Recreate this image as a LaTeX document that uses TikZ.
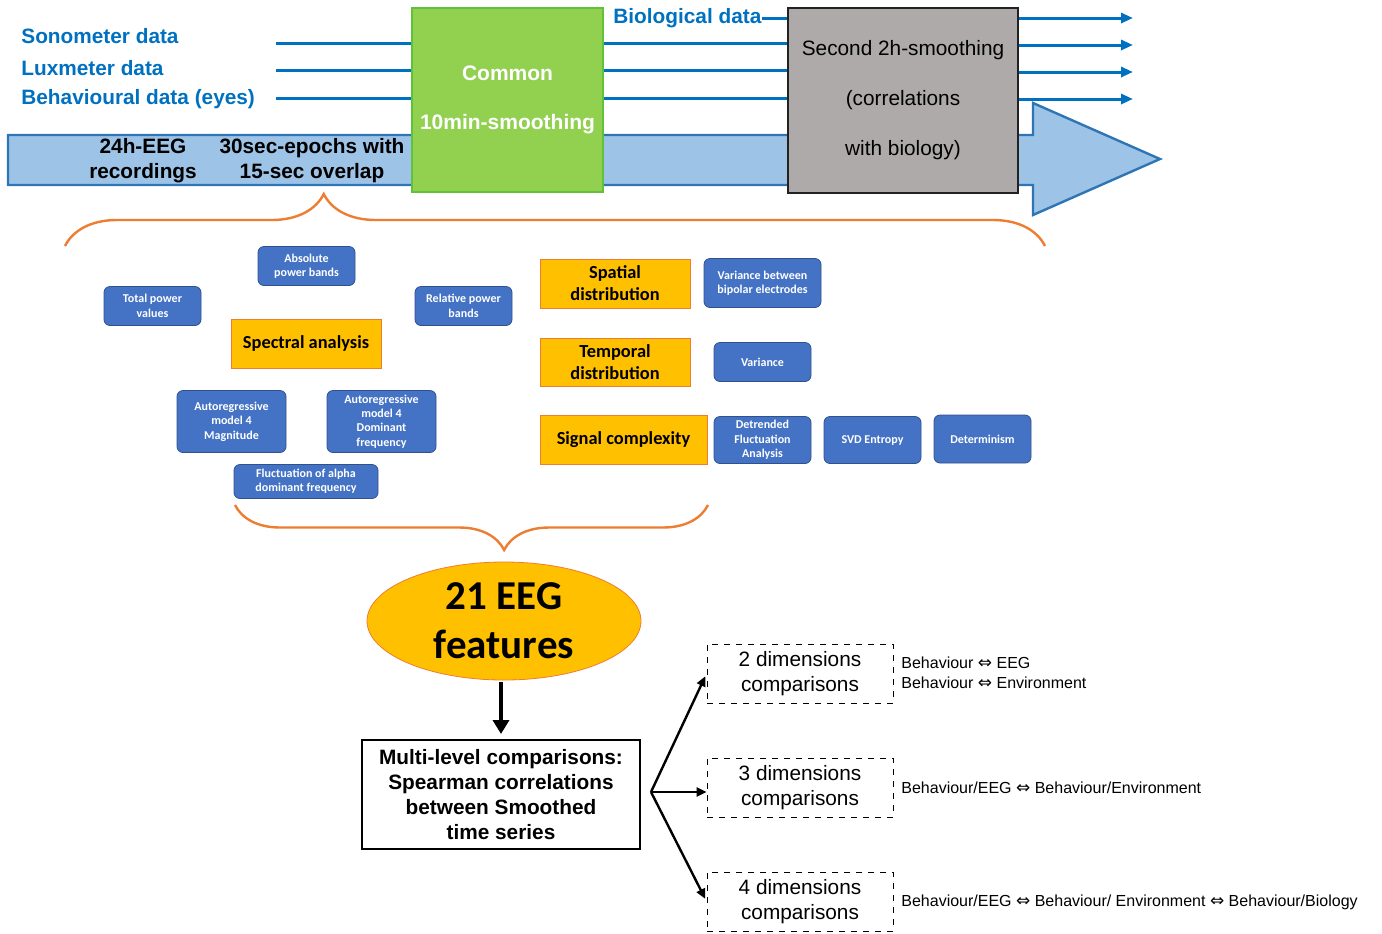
\documentclass[tikz,border=0pt]{standalone}
\usepackage{fontspec}
\setmainfont{Liberation Sans}
\newfontfamily\calibri{Carlito}
\newfontfamily\symfont{DejaVu Sans}
\usepackage{tikz}
\usetikzlibrary{arrows.meta, positioning, shapes.geometric, calc, decorations.pathreplacing}

\definecolor{lineblue}{HTML}{0070C0}
\definecolor{arrowfill}{HTML}{9DC3E6}
\definecolor{arrowedge}{HTML}{2E75B6}
\definecolor{smoothgreen}{HTML}{92D050}
\definecolor{greenedge}{HTML}{5FC23A}
\definecolor{smoothgrey}{HTML}{AEAAAA}
\definecolor{featblue}{HTML}{4472C4}
\definecolor{featedge}{HTML}{2F528F}
\definecolor{catyellow}{HTML}{FFC000}
\definecolor{braceorange}{HTML}{ED7D31}

\newcommand{\dblarrow}{{\symfont\fontsize{8.5}{10}\selectfont ⇔}}

\begin{document}
\begin{tikzpicture}[x=0.5pt, y=-0.5pt,
  flowline/.style={draw=lineblue, line width=1.5pt},
  datalabel/.style={text=lineblue, anchor=west, inner sep=0pt, font=\bfseries\fontsize{10.4}{12.5}\selectfont},
  featbox/.style={draw=featedge, fill=featblue, rounded corners=3pt, text=white, align=center,
    inner sep=1pt, minimum width=48.5pt, minimum height=19.5pt, font=\calibri\bfseries\fontsize{6}{7.2}\selectfont},
  catbox/.style={draw=braceorange, fill=catyellow, align=center, inner sep=1pt,
    minimum width=75pt, minimum height=24.5pt, font=\calibri\bfseries\fontsize{9.2}{11}\selectfont},
  dimbox/.style={draw, dashed, align=center, minimum width=93pt, minimum height=29.5pt,
    font=\fontsize{10.4}{12.5}\selectfont},
  pairtext/.style={anchor=west, align=left, inner sep=0pt, font=\fontsize{8}{10}\selectfont},
  bracestyle/.style={draw=braceorange, line width=1.2pt, decorate}]

  \useasboundingbox (0,0) rectangle (1382,933);

  % Main EEG arrow
  \draw[arrowedge, fill=arrowfill, line width=1.2pt]
    (8,135) -- (1033,135) -- (1033,103) -- (1160,159) -- (1033,215) -- (1033,185) -- (8,185) -- cycle;
  \node[font=\bfseries\fontsize{10.4}{12.5}\selectfont, align=center] (eeg) at (143,161) {24h-EEG\\recordings};
  \node[font=\bfseries\fontsize{10.4}{12.5}\selectfont, align=center] (epochs) at (312,161) {30sec-epochs with\\15-sec overlap};

  % Input data lines
  \foreach \y/\name/\lab in {36/sono/Sonometer data, 68/lux/Luxmeter data, 99/behav/Behavioural data (eyes)} {
    \node[datalabel] (\name) at (21,\y) {\lab};
  }
  \foreach \y/\name in {43/sono, 70/lux, 98/behav} {
    \coordinate (\name-start) at (276,\y);
  }

  % Smoothing boxes
  \node[draw=smoothgrey!20!black, fill=smoothgrey, line width=0.8pt, minimum width=115pt, minimum height=92.5pt,
        align=center, font=\fontsize{10.4}{25}\selectfont] (second) at (903,100.5)
        {Second 2h-smoothing\\(correlations\\with biology)};
  \foreach \name in {sono, lux, behav} {
    \draw[flowline] (\name-start) -- (\name-start -| second.west);
  }
  \node[draw=greenedge, fill=smoothgreen, line width=0.8pt, minimum width=95.5pt, minimum height=92pt,
        align=center, text=white, font=\bfseries\fontsize{10.5}{24.5}\selectfont] (common) at (507.5,100)
        {Common\\10min-smoothing};
  \node[datalabel] (bio) at (613,18) {Biological data};
  \draw[flowline] (bio.east) -- (bio.east -| second.west);

  % Outputs
  \foreach \y [count=\i] in {18,45,72,99} {
    \coordinate (out\i) at (1133,\y);
    \draw[flowline, -{Triangle[length=6pt, width=5pt]}] (second.east |- out\i) -- (out\i);
  }

  % Upper brace
  \draw[bracestyle, decoration={brace, amplitude=26pt, aspect=0.264}] (65,246) -- (1045,246);

  % Spectral analysis
  \node[catbox] (spectral) at (306,343.5) {Spectral analysis};
  \node[featbox] (abspow) at (306.5,266) {Absolute\\power bands};
  \node[featbox] (totpow) at (152.5,306) {Total power\\values};
  \node[featbox] (relpow) at (463.5,306) {Relative power\\bands};
  \node[featbox, minimum width=54.5pt, minimum height=31pt] (armag) at (231.5,421.5) {Autoregressive\\model 4\\Magnitude};
  \node[featbox, minimum width=54.5pt, minimum height=31pt] (ardom) at (381.5,421.5) {Autoregressive\\model 4\\Dominant\\frequency};
  \node[featbox, minimum width=72pt, minimum height=17pt] (alpha) at (306,481.5) {Fluctuation of alpha\\dominant frequency};

  % Other categories
  \node[catbox] (spatial) at (615,283.5) {Spatial\\distribution};
  \node[catbox, minimum height=24pt] (temporal) at (615,362.5) {Temporal\\distribution};
  \node[catbox, minimum width=83.5pt] (signal) at (623.5,439.5) {Signal complexity};
  \node[featbox, minimum width=58.5pt, minimum height=24.5pt] (bipolar) at (762.5,283) {Variance between\\bipolar electrodes};
  \node[featbox] (variance) at (762.5,362) {Variance};
  \node[featbox, minimum height=23.5pt] (dfa) at (762.5,440) {Detrended\\Fluctuation\\Analysis};
  \node[featbox, minimum height=23.5pt] (svd) at (872.5,440) {SVD Entropy};
  \node[featbox, minimum height=24pt] (determ) at (982.5,439) {Determinism};

  % Lower brace
  \draw[bracestyle, decoration={brace, amplitude=22.5pt, aspect=0.431}] (708,505) -- (235,505);

  % Features and comparisons
  \node[ellipse, draw=braceorange, fill=catyellow, minimum width=137pt, minimum height=59pt, inner sep=0pt,
        align=center, font=\calibri\bfseries\fontsize{20.5}{24.5}\selectfont] (features) at (504,621) {21 EEG\\features};
  \node[draw, line width=1pt, minimum width=139pt, minimum height=54.5pt, align=center,
        font=\bfseries\fontsize{10.4}{12.5}\selectfont] (multi) at (501,794.5)
        {Multi-level comparisons:\\Spearman correlations\\between Smoothed\\time series};
  \draw[line width=2pt, -{Triangle[length=7pt, width=8pt]}, shorten <=1pt, shorten >=2.5pt]
    (features.south -| multi.north) -- (multi.north);

  \coordinate (split) at (651,792);
  \foreach \y/\n in {673.5/2, 787.5/3, 901.5/4} {
    \node[dimbox] (dim\n) at (800,\y) {\n\ dimensions\\comparisons};
  }
  \draw[line width=1.2pt, -{Triangle[length=5pt, width=4.5pt]}, shorten >=1.5pt] (split) -- (dim2.west);
  \draw[line width=1.2pt, -{Triangle[length=5pt, width=4.5pt]}] (split) -- (split -| dim3.west);
  \draw[line width=1.2pt, -{Triangle[length=5pt, width=4.5pt]}, shorten >=1.5pt] (split) -- (dim4.west);
  \node[pairtext] (pair2) at (901,673) {Behaviour \dblarrow\ EEG\\Behaviour \dblarrow\ Environment};
  \node[pairtext] (pair3) at (901,788) {Behaviour/EEG \dblarrow\ Behaviour/Environment};
  \node[pairtext] (pair4) at (901,902) {Behaviour/EEG \dblarrow\ Behaviour/ Environment \dblarrow\ Behaviour/Biology};
\end{tikzpicture}
\end{document}
